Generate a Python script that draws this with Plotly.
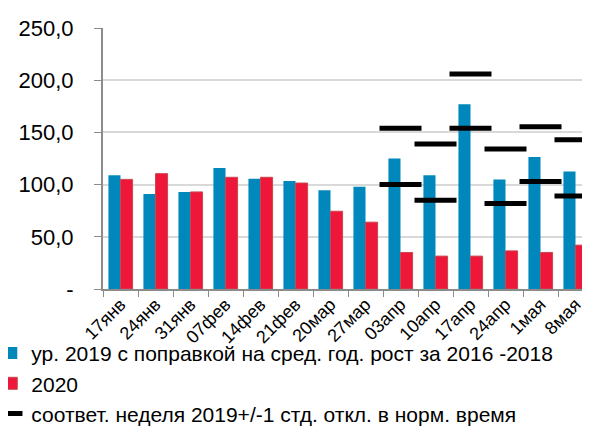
import plotly.graph_objects as go

weeks = ['17янв', '24янв', '31янв', '07фев', '14фев', '21фев', '20мар',
         '27мар', '03апр', '10апр', '17апр', '24апр', '1мая', '8мая']
adj_2019 = [109, 91, 93, 116, 105.5, 103.5, 94.5, 98, 125, 109, 177, 105, 126.5, 112.5]
y2020 = [105, 110.5, 93, 107, 107, 101.5, 74.5, 64, 35, 31.5, 31.5, 36.5, 35, 42]
std_upper = [None] * 8 + [154, 139, 206, 134, 155.5, 143]
std_lower = [None] * 8 + [100, 85, 154, 82, 103, 89]

name_2019 = 'ур. 2019 с поправкой на сред. год. рост за 2016 -2018'
name_2020 = '2020'
name_std = 'соответ. неделя 2019+/-1 стд. откл. в норм. время'

yticks = [0, 50, 100, 150, 200, 250]
yticktext = ['-', '50,0', '100,0', '150,0', '200,0', '250,0']

font_family = 'Liberation Sans, Arial, sans-serif'

fig = go.Figure()

fig.add_trace(go.Bar(
    x=weeks, y=adj_2019, name=name_2019,
    marker=dict(color='#0088bd', line=dict(width=0))
))
fig.add_trace(go.Bar(
    x=weeks, y=y2020, name=name_2020,
    marker=dict(color='#ee1639', line=dict(color='#c8484f', width=1))
))

# upper and lower std bounds drawn as short horizontal dashes
fig.add_trace(go.Scatter(
    x=weeks + weeks, y=std_upper + std_lower, name=name_std,
    mode='markers',
    marker=dict(symbol='line-ew', size=30, color='black',
                line=dict(color='black', width=5))
))

fig.update_layout(
    width=590, height=429,
    margin=dict(l=95, r=5, t=20, b=148, autoexpand=False),
    plot_bgcolor='white', paper_bgcolor='white',
    font=dict(family=font_family, color='black', size=21),
    barmode='group', bargap=0.31, bargroupgap=0,
    showlegend=True,
    legend=dict(
        orientation='v',
        x=-0.228, y=-0.168, xanchor='left', yanchor='top',
        font=dict(size=21), tracegroupgap=0, itemwidth=30,
        bgcolor='rgba(0,0,0,0)'
    ),
)

fig.update_xaxes(
    type='category', range=[-0.5, 13.5], tickangle=-45, tickfont=dict(size=18),
    ticklabelstandoff=-4, automargin=False,
    showline=True, linecolor='#8c8c8c', linewidth=2,
    ticks='outside', tickson='boundaries', ticklen=6, tickcolor='#8c8c8c',
    showgrid=False
)
fig.update_yaxes(
    range=[0, 250], tickvals=yticks, ticktext=yticktext, automargin=False,
    tickfont=dict(size=22), ticklabelstandoff=16,
    showline=True, linecolor='#8c8c8c', linewidth=2,
    ticks='outside', ticklen=7, tickcolor='#8c8c8c',
    showgrid=True, gridcolor='#d9d9d9', gridwidth=2, zeroline=False
)

fig.write_html("out.html")
